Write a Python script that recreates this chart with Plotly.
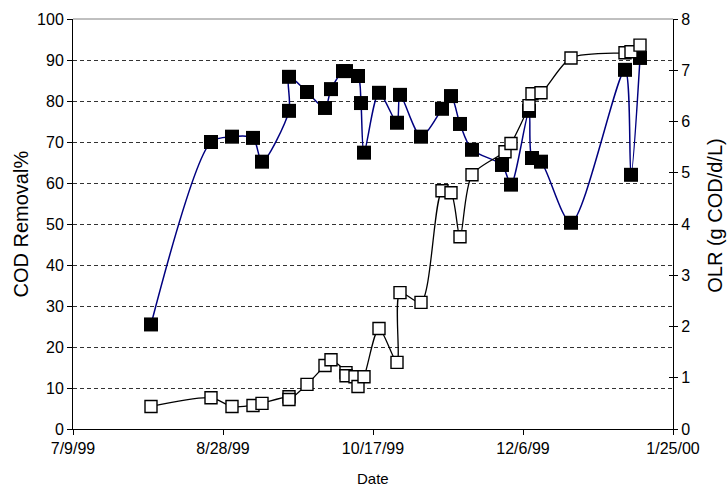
import plotly.graph_objects as go

# COD removal efficiency (%) by sampling date
cod_dates = [
    "1999-08-04", "1999-08-24", "1999-08-31", "1999-09-07", "1999-09-10",
    "1999-09-19", "1999-09-19", "1999-09-25", "1999-10-01", "1999-10-03",
    "1999-10-07", "1999-10-08", "1999-10-12", "1999-10-13", "1999-10-14",
    "1999-10-19", "1999-10-25", "1999-10-26", "1999-11-02", "1999-11-09",
    "1999-11-12", "1999-11-15", "1999-11-19", "1999-11-29", "1999-12-02",
    "1999-12-08", "1999-12-09", "1999-12-12", "1999-12-22", "2000-01-09",
    "2000-01-11", "2000-01-14",
]
cod_removal = [
    25.5, 70.0, 71.3, 71.0, 65.2,
    77.6, 85.9, 82.2, 78.3, 82.9,
    87.3, 87.3, 86.1, 79.5, 67.4,
    82.0, 74.7, 81.5, 71.3, 78.1,
    81.2, 74.4, 68.1, 64.4, 59.6,
    77.6, 66.1, 65.2, 50.3, 87.6,
    62.0, 90.5,
]

# Organic loading rate (g COD/d/L) by sampling date
olr_dates = [
    "1999-08-04", "1999-08-24", "1999-08-31", "1999-09-07", "1999-09-10",
    "1999-09-19", "1999-09-19", "1999-09-25", "1999-10-01", "1999-10-03",
    "1999-10-08", "1999-10-08", "1999-10-11", "1999-10-12", "1999-10-14",
    "1999-10-19", "1999-10-25", "1999-10-26", "1999-11-02", "1999-11-09",
    "1999-11-12", "1999-11-15", "1999-11-19", "1999-11-30", "1999-12-02",
    "1999-12-08", "1999-12-09", "1999-12-12", "1999-12-22", "2000-01-09",
    "2000-01-11", "2000-01-14",
]
olr = [
    0.44, 0.61, 0.44, 0.46, 0.50,
    0.63, 0.575, 0.87, 1.24, 1.35,
    1.10, 1.04, 1.02, 0.83, 1.02,
    1.96, 1.30, 2.66, 2.47, 4.65,
    4.61, 3.75, 4.96, 5.41, 5.57,
    6.31, 6.54, 6.56, 7.24, 7.34,
    7.36, 7.49,
]

x_tick_vals = ["1999-07-09", "1999-08-28", "1999-10-17", "1999-12-06", "2000-01-25"]
x_tick_text = ["7/9/99", "8/28/99", "10/17/99", "12/6/99", "1/25/00"]

FONT = "Liberation Sans, Arial, sans-serif"
TICK_SIZE = 16

fig = go.Figure()

fig.add_trace(go.Scatter(
    x=cod_dates, y=cod_removal, mode="lines+markers",
    line=dict(color="#000080", width=1.5, shape="spline", smoothing=0.8),
    marker=dict(symbol="square", size=14, color="black",
                line=dict(color="black", width=0)),
    yaxis="y", showlegend=False,
))

fig.add_trace(go.Scatter(
    x=olr_dates, y=olr, mode="lines+markers",
    line=dict(color="black", width=1.3, shape="spline", smoothing=0.8),
    marker=dict(symbol="square", size=12, color="white",
                line=dict(color="black", width=1.4)),
    yaxis="y2", showlegend=False,
))

fig.update_layout(
    width=727, height=490,
    margin=dict(l=73, r=54, t=19, b=61),
    paper_bgcolor="white", plot_bgcolor="white",
    font=dict(family=FONT, size=14, color="black"),
    xaxis=dict(
        range=["1999-07-09", "2000-01-25"],
        tickvals=x_tick_vals, ticktext=x_tick_text,
        showgrid=False, zeroline=False,
        showline=True, linecolor="black", linewidth=1,
        ticks="outside", ticklen=5, tickcolor="black",
        tickfont=dict(size=TICK_SIZE),
    ),
    yaxis=dict(
        range=[0, 100], dtick=10,
        showgrid=True, gridcolor="#333333", gridwidth=1, griddash="4px,3px",
        zeroline=False,
        showline=True, linecolor="black", linewidth=1,
        ticks="outside", ticklen=5, tickcolor="black",
        tickfont=dict(size=TICK_SIZE),
    ),
    yaxis2=dict(
        range=[0, 8], dtick=1, overlaying="y", side="right", anchor="x",
        showgrid=False, zeroline=False,
        showline=True, linecolor="black", linewidth=1,
        ticks="outside", ticklen=4, tickcolor="black",
        tickfont=dict(size=TICK_SIZE),
    ),
    yaxis3=dict(
        range=[0, 8], dtick=1, overlaying="y", side="right", anchor="x",
        showgrid=False, zeroline=False, showline=False,
        showticklabels=False,
        ticks="inside", ticklen=4, tickcolor="black",
    ),
    shapes=[dict(type="line", xref="paper", yref="paper",
                 x0=0, x1=1, y0=1, y1=1,
                 line=dict(color="#808080", width=1))],
    annotations=[
        dict(text="Date", xref="paper", yref="paper", x=0.5, y=0,
             yshift=-49, showarrow=False, font=dict(size=15),
             xanchor="center", yanchor="middle"),
        dict(text="COD Removal%", xref="paper", yref="paper", x=0, y=0.5,
             xshift=-52.5, showarrow=False, textangle=-90, font=dict(size=20),
             xanchor="center", yanchor="middle"),
        dict(text="OLR (g COD/d/L)", xref="paper", yref="paper", x=1, y=0.52,
             xshift=42, showarrow=False, textangle=-90, font=dict(size=20),
             xanchor="center", yanchor="middle"),
    ],
)

# empty trace so the inside-tick overlay axis is rendered
fig.add_trace(go.Scatter(x=[None], y=[None], yaxis="y3", showlegend=False,
                         hoverinfo="skip"))

fig.write_html("out.html")
